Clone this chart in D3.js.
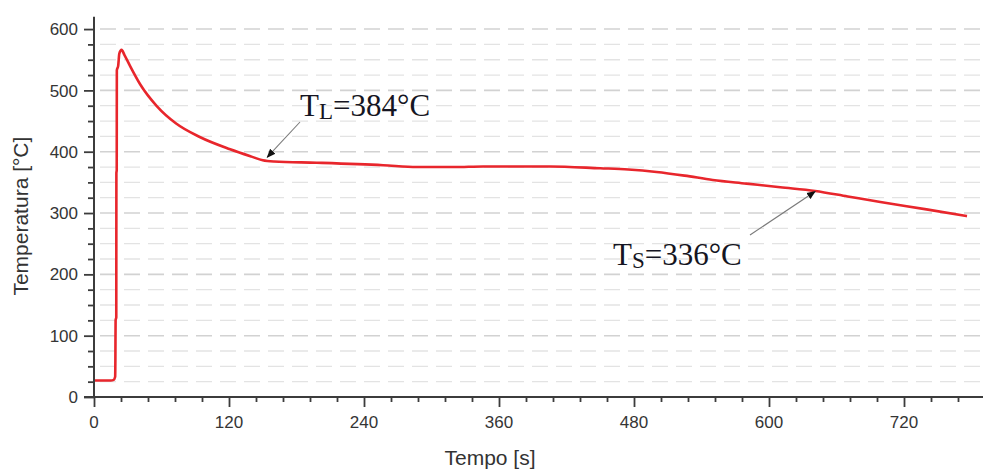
<!DOCTYPE html>
<html>
<head>
<meta charset="utf-8">
<script src="https://cdn.jsdelivr.net/npm/d3@7"></script>
<style>
  body { margin: 0; background: #fff; }
  svg { display: block; }
  .tick-lbl { font-family: "Liberation Sans", Arial, sans-serif; font-size: 17px; fill: #353535; }
  .ax-title { font-family: "Liberation Sans", Arial, sans-serif; font-size: 21px; fill: #333; }
  .note { font-family: "Liberation Serif", "Times New Roman", serif; font-size: 31px; fill: #151522; }
</style>
</head>
<body>
<div class="chart-container"></div>
<script>
// cooling curve
var tempo = [0, 15, 17.5, 18.8, 19, 19.2, 19.8, 19.9, 20.2, 20.3, 21.5, 22.5, 24.5, 27, 32, 41, 56, 73, 94, 121, 140, 150, 160, 198, 257, 287, 320, 346, 405, 450, 475, 500, 525, 550, 580, 610, 641, 670, 699, 740, 776];
var temperatura = [27, 27, 28, 33, 60, 125, 130, 365, 370, 533, 540, 560, 566, 558, 540, 510, 474, 446, 424, 404, 392, 386, 384, 382, 378, 375, 375, 376, 376, 373, 371, 367, 361, 354, 348, 342, 336, 327, 318, 306, 295];

var xTicks = [0, 120, 240, 360, 480, 600, 720];
var yTicks = [0, 100, 200, 300, 400, 500, 600];

var notes = [
    {base: "T", sub: "L", rest: "=384°C", t: 154, v: 391, tx: 300, ty: 116, ax: 300, ay: 122},
    {base: "T", sub: "S", rest: "=336°C", t: 641, v: 335, tx: 613, ty: 265, ax: 750, ay: 235}
];

var W = 983, H = 471;
var x = d3.scaleLinear().domain([0, 790]).range([94, 982.75]);
var y = d3.scaleLinear().domain([0, 620]).range([397, 16.8]);

var svg = d3.select(".chart-container").append("svg")
    .attr("width", W).attr("height", H);

svg.append("defs").append("marker")
    .attr("id", "head")
    .attr("viewBox", "0 0 10 10")
    .attr("refX", 9).attr("refY", 5)
    .attr("markerWidth", 9).attr("markerHeight", 9)
    .attr("markerUnits", "userSpaceOnUse")
    .attr("orient", "auto")
    .append("path").attr("d", "M0,1 L10,5 L0,9 Z").attr("fill", "#111");

// dashed grid, every 25 degrees
var gridVals = d3.range(25, 601, 25);
svg.append("g").selectAll("line")
    .data(gridVals)
    .enter().append("line")
    .attr("x1", 100).attr("x2", W)
    .attr("y1", function (d) { return y(d); })
    .attr("y2", function (d) { return y(d); })
    .attr("stroke", function (d) { return d % 100 == 0 ? "#d2d2d2" : "#e3e3e3"; })
    .attr("stroke-width", function (d) { return d % 100 == 0 ? 1.6 : 1.3; })
    .attr("stroke-dasharray", "16,8");

// curve
var line = d3.line()
    .x(function (d, i) { return x(tempo[i]); })
    .y(function (d) { return y(d); })
    .curve(d3.curveMonotoneX);

svg.append("path")
    .datum(temperatura)
    .attr("d", line)
    .attr("fill", "none")
    .attr("stroke", "#e8262c")
    .attr("stroke-width", 2.6)
    .attr("stroke-linejoin", "round");

// axes
var axisCol = "#3c3c3c";
var yAx = svg.append("g").attr("transform", "translate(" + x(0) + ",0)");
yAx.call(d3.axisLeft(y).tickValues(d3.range(0, 601, 25)).tickSize(6).tickFormat(""));
yAx.selectAll(".tick line")
    .attr("x2", function (d) { return d % 100 == 0 ? -10 : -6; })
    .attr("stroke", axisCol).attr("stroke-width", 1.8);
yAx.select(".domain").remove();
yAx.append("line").attr("y1", y(620)).attr("y2", y(0))
    .attr("stroke", axisCol).attr("stroke-width", 2);

var xAx = svg.append("g").attr("transform", "translate(0," + y(0) + ")");
xAx.call(d3.axisBottom(x).tickValues(d3.range(0, 790, 24)).tickSize(5).tickFormat(""));
xAx.selectAll(".tick line")
    .attr("y2", function (d) { return d % 120 == 0 ? 10 : 5; })
    .attr("stroke", axisCol).attr("stroke-width", 1.8);
xAx.select(".domain").remove();
xAx.append("line").attr("x1", x(0) - 10).attr("x2", W)
    .attr("stroke", axisCol).attr("stroke-width", 2);

// tick labels
svg.append("g").selectAll("text")
    .data(yTicks).enter().append("text")
    .attr("class", "tick-lbl")
    .attr("x", 78).attr("y", function (d) { return y(d); })
    .attr("dy", "0.36em")
    .attr("text-anchor", "end")
    .text(function (d) { return d; });

svg.append("g").selectAll("text")
    .data(xTicks).enter().append("text")
    .attr("class", "tick-lbl")
    .attr("x", function (d) { return x(d); }).attr("y", 428)
    .attr("text-anchor", "middle")
    .text(function (d) { return d; });

svg.append("text").attr("class", "ax-title")
    .attr("x", x(352)).attr("y", 465)
    .attr("text-anchor", "middle")
    .text("Tempo [s]");

svg.append("text").attr("class", "ax-title")
    .attr("font-size", "22px")
    .attr("transform", "translate(28," + y(295) + ") rotate(-90)")
    .attr("text-anchor", "middle")
    .text("Temperatura [°C]");

// annotations
notes.forEach(function (n) {
    svg.append("line")
        .attr("x1", n.ax).attr("y1", n.ay)
        .attr("x2", x(n.t)).attr("y2", y(n.v))
        .attr("stroke", "#7a7a7a").attr("stroke-width", 1.1)
        .attr("marker-end", "url(#head)");
    var t = svg.append("text").attr("class", "note")
        .attr("x", n.tx).attr("y", n.ty);
    t.append("tspan").text(n.base);
    t.append("tspan").attr("font-size", "23px").attr("dy", 3).text(n.sub);
    t.append("tspan").attr("dy", -3).text(n.rest);
});
</script>
</body>
</html>
